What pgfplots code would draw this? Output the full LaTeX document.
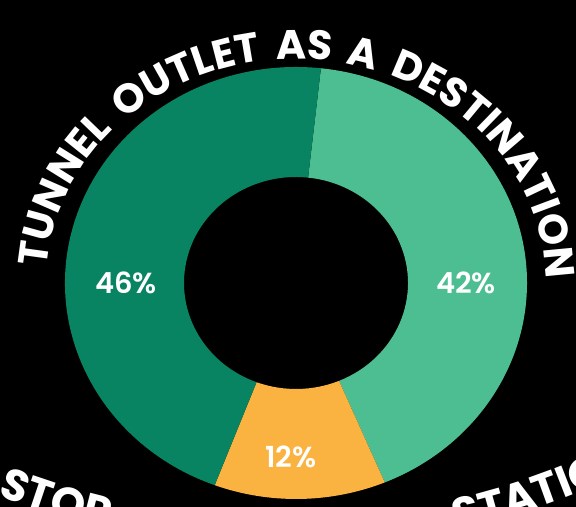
\documentclass[border=0pt]{standalone}
\usepackage{fontspec}
\setmainfont{Poppins}
\newfontfamily\semibold{Poppins SemiBold}
\usepackage{pgfplots}
\usepackage{pgfplotstable}
\pgfplotsset{compat=1.18}
\usetikzlibrary{decorations.text}

\definecolor{darkgreen}{RGB}{9,132,98}
\definecolor{lightgreen}{RGB}{76,190,145}
\definecolor{amber}{RGB}{250,178,64}

% share in percent, label position (px from bottom left)
\pgfplotstableread{
share lx  ly
42    466 224.5
12    291 50
46    126 224.5
}\donutdata

\newcommand\titlefont{\fontsize{41bp}{41bp}\selectfont\bfseries}
\newcommand\lowerfont{\fontsize{44bp}{44bp}\selectfont\bfseries}

% one ring segment, from angle #1 to #2 (clockwise), fill colour #3
\newcommand\ringpart[3]{%
  \fill[#3] (axis cs:{296+231*cos(#1)},{224+216*sin(#1)})
    arc[start angle=#1, end angle=#2, x radius=231bp, y radius=216bp]
    -- (axis cs:{296+112*cos(#2)},{224+106*sin(#2)})
    arc[start angle=#2, end angle=#1, x radius=112bp, y radius=106bp] -- cycle;}

\begin{document}
\begin{tikzpicture}[x=1bp,y=1bp]
\useasboundingbox (0,0) rectangle (576,507);
\fill[black] (0,0) rectangle (576,507);
\clip (0,0) rectangle (576,507);

\pgfplotstablegetelem{0}{share}\of\donutdata \let\sA\pgfplotsretval
\pgfplotstablegetelem{1}{share}\of\donutdata \let\sB\pgfplotsretval
\pgfplotstablegetelem{2}{share}\of\donutdata \let\sC\pgfplotsretval
\pgfmathsetmacro\aO{83.8}
\pgfmathsetmacro\aA{\aO-3.6*\sA}
\pgfmathsetmacro\aB{\aA-3.6*\sB}
\pgfmathsetmacro\aC{\aB-3.6*\sC}

\begin{axis}[
    x=1bp, y=1bp, disabledatascaling,
    xmin=0, xmax=576, ymin=0, ymax=507,
    anchor=origin, at={(0,0)},
    hide axis, clip=false,
]
  \ringpart{\aO}{\aA}{lightgreen}
  \ringpart{\aA}{\aB}{amber}
  \ringpart{\aB}{\aC}{darkgreen}
  \addplot[only marks, mark=none, point meta=explicit,
    /pgf/number format/assume math mode=true,
    nodes near coords={\pgfmathprintnumber{\pgfplotspointmeta}\%},
    nodes near coords align=center,
    every node near coord/.style={anchor=center, text=white,
      font=\fontsize{29bp}{29bp}\selectfont\semibold}]
    table[x=lx, y=ly, meta=share] {\donutdata};
\end{axis}

\path[decorate, decoration={text along path,
    text align=fit to path stretching spaces,
    text color=white, text={|\titlefont|TUNNEL OUTLET AS A DESTINATION}}]
  ({296+250*cos(176)},{224+224*sin(176)})
  arc[start angle=176, end angle=1, x radius=250bp, y radius=224bp];

\path[decorate, decoration={text along path, text align=left,
    text color=white, text={|\lowerfont|STOP}}]
  ({285+781*cos(248.4)},{738+781*sin(248.4)})
  arc[start angle=248.4, end angle=270, radius=781bp];
\path[decorate, decoration={text along path, text align=left,
    text color=white, text={|\lowerfont|STATION}}]
  ({285+781*cos(282.7)},{738+781*sin(282.7)})
  arc[start angle=282.7, end angle=310, radius=781bp];
\end{tikzpicture}
\end{document}
